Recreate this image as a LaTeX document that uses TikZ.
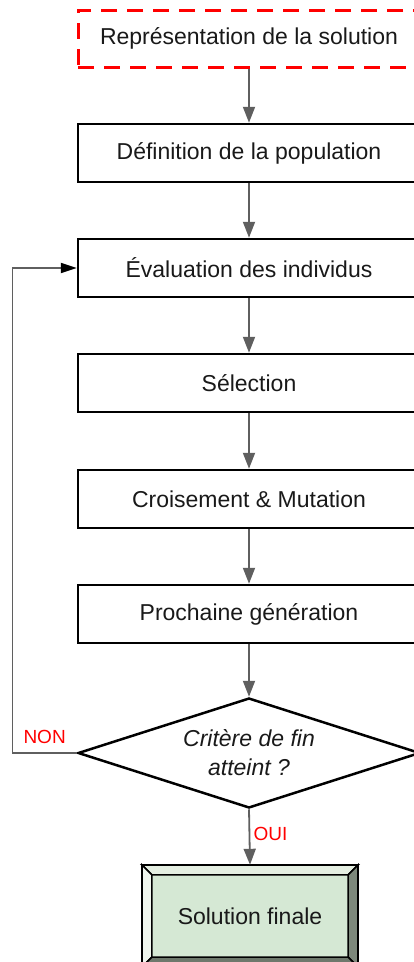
\documentclass[tikz,border=0pt]{standalone}
\usepackage{fontspec}
\setmainfont{Liberation Sans}
\usetikzlibrary{calc, positioning}
\usetikzlibrary{arrows.meta}
\usetikzlibrary{shapes.geometric}

\definecolor{flowgray}{HTML}{5F5F5F}
\definecolor{solgreen}{HTML}{D5E8D4}
\definecolor{bevtop}{HTML}{E4EEE1}
\definecolor{bevleft}{HTML}{F0F6EE}
\definecolor{bevright}{HTML}{7D887B}
\definecolor{bevbot}{HTML}{6E786C}

\begin{document}
\begin{tikzpicture}[x=1pt, y=-1pt,
  box/.style={draw=black, line width=2.5pt, minimum width=342pt, minimum height=58pt,
    inner sep=0pt, font=\fontsize{23}{28}\selectfont, text=black!90},
  flow/.style={draw=flowgray, line width=1.8pt, -{Triangle[length=16pt,width=12pt]}},
  lbl/.style={text=red, font=\fontsize{19}{22}\selectfont}]
\def\cx{249}
\def\bev{10}

\useasboundingbox (0,0) rectangle (414,962);
\clip (0,0) rectangle (414,962);

% Main column of steps
\node[box, draw=red, dashed, dash pattern=on 16pt off 10pt, line width=3pt, minimum height=57pt]
  (rep) at (\cx,38.5) {Représentation de la solution};
\node[box] (def) at (\cx,153) {Définition de la population};
\node[box] (eval) at (\cx,268) {Évaluation des individus};
\node[box] (sel) at (\cx,383) {Sélection};
\node[box] (crois) at (\cx,499) {Croisement \& Mutation};
\node[box] (proch) at (\cx,614) {Prochaine génération};

% Stopping test
\node[diamond, draw=black, line width=2.5pt, minimum width=342pt, minimum height=110pt,
  shape aspect=3.1, inner sep=0pt, align=center,
  font=\fontsize{23}{29}\selectfont\itshape, text=black!90]
  (crit) at (\cx,753) {Critère de fin\\atteint ?};

% Final box with bevelled frame
\node[minimum width=216pt, minimum height=102pt, fill=solgreen, inner sep=0pt,
  font=\fontsize{23}{28}\selectfont, text=black!90] (sol) at (250,916) {Solution finale};
\coordinate (iNW) at ($(sol.north west)+(\bev,\bev)$);
\coordinate (iNE) at ($(sol.north east)+(-\bev,\bev)$);
\coordinate (iSW) at ($(sol.south west)+(\bev,-\bev)$);
\coordinate (iSE) at ($(sol.south east)+(-\bev,-\bev)$);
\filldraw[fill=bevtop, line width=1.5pt] (sol.north west) -- (sol.north east) -- (iNE) -- (iNW) -- cycle;
\filldraw[fill=bevleft, line width=1.5pt] (sol.north west) -- (iNW) -- (iSW) -- (sol.south west) -- cycle;
\filldraw[fill=bevright, line width=1.5pt] (sol.north east) -- (sol.south east) -- (iSE) -- (iNE) -- cycle;
\filldraw[fill=bevbot, line width=1.5pt] (sol.south west) -- (iSW) -- (iSE) -- (sol.south east) -- cycle;
\draw[line width=2.5pt] (sol.north west) rectangle (sol.south east);

% Connectors
\draw[flow] (rep.south) -- (def.north);
\draw[flow] (def.south) -- (eval.north);
\draw[flow] (eval.south) -- (sel.north);
\draw[flow] (sel.south) -- (crois.north);
\draw[flow] (crois.south) -- (proch.north);
\draw[flow] (proch.south) -- (crit.north);
\draw[flow] (crit.south) -- node[lbl, right, pos=0.45] {OUI} (sol.north);

% Loop back when the test fails
\coordinate (back) at (12.5,500);
\draw[draw=flowgray, line width=1.8pt, -{Triangle[length=16pt,width=10pt,color=black]}]
  (crit.west) -| node[lbl, above=5pt, pos=0.25] {NON} (back) |- (eval.west);
\end{tikzpicture}
\end{document}
